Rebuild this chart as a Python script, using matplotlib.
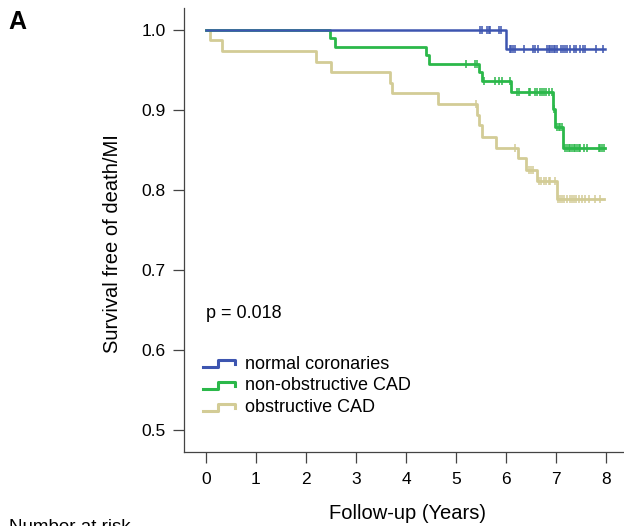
import numpy as np
import matplotlib
matplotlib.use("Agg")
import matplotlib.pyplot as plt
from matplotlib.legend_handler import HandlerBase
from matplotlib.lines import Line2D

plt.rcParams['font.family'] = ['Liberation Sans', 'DejaVu Sans']

# --- Kaplan-Meier curves ---
groups = ['normal coronaries', 'non-obstructive CAD', 'obstructive CAD']
colors = ['#3d55b0', '#2bb84a', '#d3cc96']

normal_t = [0.0, 6.00]
normal_s = [1.0, 0.976]
normal_end = 7.98
normal_cens = [5.48, 5.52, 5.61, 5.65, 5.68, 5.85, 5.89, 6.07, 6.09, 6.13, 6.18,
               6.36, 6.53, 6.57, 6.63, 6.81, 6.85, 6.88, 6.91, 6.95, 6.98, 7.01,
               7.09, 7.13, 7.18, 7.21, 7.28, 7.35, 7.40, 7.48, 7.53, 7.58, 7.80, 7.93]

nonobs_t = [0.0, 2.48, 2.58, 4.39, 4.45, 5.46, 5.51, 6.10, 6.93, 6.98, 7.13]
nonobs_s = [1.0, 0.990, 0.979, 0.969, 0.958, 0.947, 0.936, 0.923, 0.901, 0.879, 0.852]
nonobs_end = 7.98
nonobs_cens = [5.20, 5.38, 5.41, 5.55, 5.78, 5.85, 5.91, 6.08, 6.21, 6.25, 6.45,
               6.48, 6.58, 6.61, 6.68, 6.71, 6.76, 6.80, 6.85, 6.91, 6.95, 7.02,
               7.05, 7.08, 7.11, 7.18, 7.21, 7.25, 7.28, 7.31, 7.35, 7.38, 7.41,
               7.45, 7.48, 7.55, 7.61, 7.85, 7.88, 7.91, 7.96]

obs_t = [0.0, 0.08, 0.31, 2.19, 2.49, 3.68, 3.72, 4.63, 5.41, 5.46, 5.51, 5.79,
         6.23, 6.40, 6.61, 7.01]
obs_s = [1.0, 0.987, 0.974, 0.960, 0.947, 0.934, 0.921, 0.907, 0.894, 0.881,
         0.866, 0.853, 0.840, 0.825, 0.811, 0.789]
obs_end = 7.95
obs_cens = [5.39, 6.18, 6.45, 6.49, 6.53, 6.65, 6.69, 6.75, 6.80, 6.85, 6.88,
            6.98, 7.03, 7.07, 7.11, 7.16, 7.21, 7.27, 7.31, 7.36, 7.40, 7.45,
            7.51, 7.58, 7.65, 7.78, 7.88]

curves = [(normal_t, normal_s, normal_end, normal_cens),
          (nonobs_t, nonobs_s, nonobs_end, nonobs_cens),
          (obs_t, obs_s, obs_end, obs_cens)]

x_ticks = [0, 1, 2, 3, 4, 5, 6, 7, 8]
y_ticks = [0.5, 0.6, 0.7, 0.8, 0.9, 1.0]


class StepHandler(HandlerBase):
    # legend key drawn as a small step, like the original
    def create_artists(self, legend, orig_handle, xdescent, ydescent,
                       width, height, fontsize, trans):
        x0 = -xdescent
        xs = [x0, x0 + 0.45 * width, x0 + 0.45 * width, x0 + width, x0 + width]
        ys = [0.1 * height, 0.1 * height, 0.65 * height, 0.65 * height, 0.35 * height]
        ln = Line2D(xs, ys, color=orig_handle.get_color(),
                    linewidth=orig_handle.get_linewidth(), transform=trans)
        return [ln]


fig = plt.figure(figsize=(6.24, 5.26), dpi=100)
ax = fig.add_axes([184 / 624, 74 / 526, 440 / 624, 444 / 526])

handles = []
# draw obstructive first so the others sit on top
for i in [2, 1, 0]:
    t, s, end, cens = curves[i]
    xs = list(t) + [end]
    ys = list(s) + [s[-1]]
    lw = 1.8 if i == 0 else 2.0
    ax.step(xs, ys, where='post', color=colors[i], lw=lw, zorder=3 + (2 - i))
    idx = np.searchsorted(t, cens, side='right') - 1
    cy = np.array(s)[idx]
    ax.plot(cens, cy, ls='none', marker='|', ms=6, mew=1.1,
            color=colors[i], zorder=3 + (2 - i))

for i in range(3):
    handles.append(Line2D([], [], color=colors[i], lw=2.2))

ax.set_xlim(-0.44, 8.36)
ax.set_ylim(0.4725, 1.0275)
ax.set_xticks(x_ticks)
ax.set_yticks(y_ticks)
ax.set_yticklabels(['%.1f' % v for v in y_ticks])

for sp in ['top', 'right']:
    ax.spines[sp].set_visible(False)
for sp in ['left', 'bottom']:
    ax.spines[sp].set_color('#444444')
    ax.spines[sp].set_linewidth(0.9)

ax.tick_params(axis='both', direction='out', length=8, width=0.9,
               color='#444444', labelsize=12.5)
ax.tick_params(axis='x', pad=6.5)
ax.tick_params(axis='y', pad=5)

ax.set_ylabel('Survival free of death/MI', fontsize=14.5)
ax.yaxis.set_label_coords(-0.140, 0.47)
ax.set_xlabel('Follow-up (Years)', fontsize=14.5)
ax.xaxis.set_label_coords(0.507, -0.118)

ax.text(0.0, 0.6396, 'p = 0.018', fontsize=13, va='baseline', ha='left')

ax.legend(handles, groups, handler_map={Line2D: StepHandler()},
          loc='upper left', bbox_to_anchor=(0.043, 0.217), frameon=False,
          fontsize=13, handlelength=1.8, handletextpad=0.55,
          labelspacing=0.26, borderpad=0, borderaxespad=0)

fig.text(8 / 624, 1 - 10 / 526, 'A', fontsize=18, fontweight='bold',
         va='top', ha='left')
fig.text(9 / 624, 7 / 526, 'Number at risk', fontsize=13.5, va='top', ha='left')

fig.savefig('out.png', dpi=100)
